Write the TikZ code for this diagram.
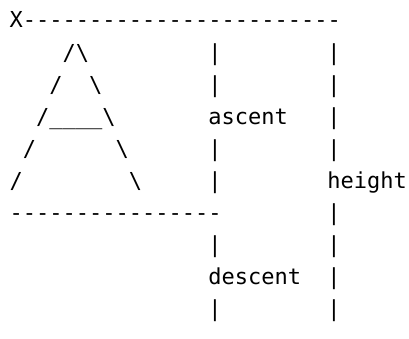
\documentclass[tikz,border=0pt]{standalone}
\usepackage{fontspec}
\setmonofont{DejaVu Sans Mono}

\begin{document}
\begin{tikzpicture}[x=1pt, y=1pt,
  txt/.style={inner sep=0pt, anchor=base west, font=\ttfamily\fontsize{22}{22}\selectfont}]
\useasboundingbox (0,0) rectangle (409,338);
\def\cw{13.24}  % one character cell
\def\lh{32.1}   % one text line
% put text at character column #2 and line #3
\newcommand{\asc}[4]{\node[txt] (#1) at ({9.5+#2*\cw},{310-#3*\lh}) {#4};}

% top line with the origin mark
\asc{top}{0}{0}{X------------------------}

% the letter A
\asc{apex}{4}{1}{/\textbackslash}
\asc{ul}{3}{2}{/}     \asc{ur}{6}{2}{\textbackslash}
\asc{bar}{2}{3}{/\_\_\_\_\textbackslash}
\asc{ll}{1}{4}{/}     \asc{lr}{8}{4}{\textbackslash}
\asc{fl}{0}{5}{/}     \asc{fr}{9}{5}{\textbackslash}

% baseline
\asc{base}{0}{6}{----------------}

% ascent / descent column
\foreach \r in {1,2,4,5,7,9} {\asc{a\r}{15}{\r}{|}}
\asc{ascent}{15}{3}{ascent}
\asc{descent}{15}{8}{descent}

% height column
\foreach \r in {1,2,3,4,6,7,8,9} {\asc{h\r}{24}{\r}{|}}
\asc{height}{24}{5}{height}

\end{tikzpicture}
\end{document}
